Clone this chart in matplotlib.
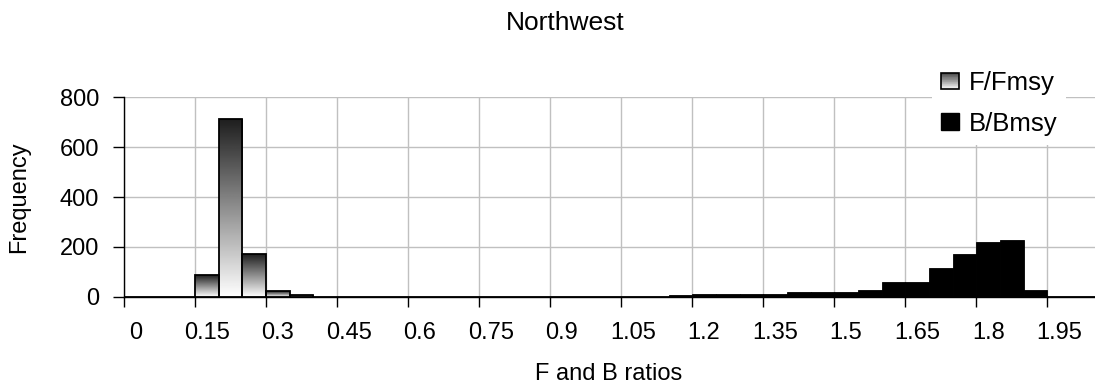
import numpy as np
import matplotlib
matplotlib.use("Agg")
import matplotlib.pyplot as plt
from matplotlib.patches import Rectangle, Patch
from matplotlib.legend_handler import HandlerBase

plt.rcParams["font.family"] = ["Liberation Sans", "DejaVu Sans"]

# Histogram bins (lower edge of each 0.05-wide class)
bin_starts = [0.00, 0.05, 0.10, 0.15, 0.20, 0.25, 0.30, 0.35, 0.40, 0.45,
              0.50, 0.55, 0.60, 0.65, 0.70, 0.75, 0.80, 0.85, 0.90, 0.95,
              1.00, 1.05, 1.10, 1.15, 1.20, 1.25, 1.30, 1.35, 1.40, 1.45,
              1.50, 1.55, 1.60, 1.65, 1.70, 1.75, 1.80, 1.85, 1.90, 1.95,
              2.00]

# Frequencies of F/Fmsy per bin
f_counts = [0, 0, 0, 88, 711, 170, 23, 8, 0, 0,
            0, 0, 0, 0, 0, 0, 0, 0, 0, 0,
            0, 0, 0, 0, 0, 0, 0, 0, 0, 0,
            0, 0, 0, 0, 0, 0, 0, 0, 0, 0,
            0]

# Frequencies of B/Bmsy per bin
b_counts = [0, 0, 0, 0, 0, 0, 0, 0, 0, 0,
            0, 0, 0, 0, 0, 0, 0, 0, 0, 0,
            0, 0, 0, 8, 9, 9, 9, 10, 17, 18,
            18, 26, 58, 59, 114, 170, 220, 226, 28, 0,
            0]

# Category labels shown on every third bin
tick_labels = ["0", "0.15", "0.3", "0.45", "0.6", "0.75", "0.9", "1.05",
               "1.2", "1.35", "1.5", "1.65", "1.8", "1.95"]
y_ticks = [0, 200, 400, 600, 800]

W, H = 1095, 390
fig = plt.figure(figsize=(W / 100, H / 100), dpi=100)
ax = fig.add_axes([124 / W, 1 - 296.7 / H, (1094.7 - 124) / W, (296.7 - 97.3) / H])

x = np.arange(len(bin_starts))
grad = np.linspace(1.0, 0.12, 256).reshape(-1, 1)

# F/Fmsy: vertically shaded bars with black outline
for xi, v in zip(x, f_counts):
    if v > 0:
        ax.imshow(grad, extent=(xi - 0.5, xi + 0.5, 0, v), origin="lower",
                  cmap="gray", vmin=0, vmax=1, aspect="auto",
                  interpolation="bilinear", zorder=2)
ax.bar(x, f_counts, width=1.0, fill=False, edgecolor="black", linewidth=1.3, zorder=3)

# B/Bmsy: solid black bars
ax.bar(x, b_counts, width=1.0, color="black", edgecolor="black", linewidth=0.6, zorder=3)

ax.set_xlim(-0.5, len(bin_starts) - 0.5)
ax.set_ylim(0, 800)

# Tick marks on class boundaries, labels centred on the labelled classes
label_pos = x[::3]
ax.set_xticks(label_pos - 0.5)
ax.set_xticklabels([])
ax.set_xticks(label_pos, minor=True)
ax.set_xticklabels(tick_labels, minor=True)
ax.tick_params(axis="x", which="major", length=7, width=1, color="black", direction="out")
ax.tick_params(axis="x", which="minor", length=0, pad=18.5, labelsize=17)
ax.set_yticks(y_ticks)
ax.tick_params(axis="y", length=8, width=1, color="black", direction="out",
               pad=10, labelsize=17)

ax.set_axisbelow(True)
ax.grid(axis="x", which="major", color="#c0c0c0", linewidth=1)
ax.grid(axis="y", which="major", color="#c0c0c0", linewidth=1)

for side in ("top", "right"):
    ax.spines[side].set_visible(False)
for side in ("left", "bottom"):
    ax.spines[side].set_color("black")
    ax.spines[side].set_linewidth(1)
    ax.spines[side].set_zorder(4)


class GradientPatchHandler(HandlerBase):
    """Legend key filled with a dark-to-white vertical gradient."""

    def create_artists(self, legend, orig_handle, xdescent, ydescent,
                       width, height, fontsize, trans):
        n = 24
        x0, y0 = -xdescent, -ydescent
        artists = []
        for k in range(n):
            shade = 1.0 - 0.75 * (k + 0.5) / n
            artists.append(Rectangle((x0, y0 + k * height / n), width, height / n,
                                     facecolor=str(shade), edgecolor="none",
                                     transform=trans))
        artists.append(Rectangle((x0, y0), width, height, fill=False,
                                 edgecolor="black", linewidth=1.2, transform=trans))
        return artists


f_handle = Patch(facecolor="0.6", edgecolor="black")
b_handle = Patch(facecolor="black", edgecolor="black")
leg = ax.legend([f_handle, b_handle], ["F/Fmsy", "B/Bmsy"],
                handler_map={f_handle: GradientPatchHandler()},
                loc="upper right", bbox_to_anchor=(1066 / W, 1 - 62 / H),
                bbox_transform=fig.transFigure, fontsize=18.5,
                frameon=True, facecolor="white", edgecolor="none", framealpha=1,
                fancybox=False, borderpad=0.35, borderaxespad=0,
                handlelength=0.7, handleheight=0.62, handletextpad=0.35,
                labelspacing=0.65)
leg.set_zorder(6)

fig.text(565 / W, 1 - 23 / H, "Northwest", ha="center", va="center", fontsize=19)
fig.text(609 / W, 1 - 374 / H, "F and B ratios", ha="center", va="center", fontsize=17)
fig.text(19 / W, 1 - 197 / H, "Frequency", ha="center", va="center",
         rotation=90, fontsize=17)

fig.savefig("out.png", dpi=100)
